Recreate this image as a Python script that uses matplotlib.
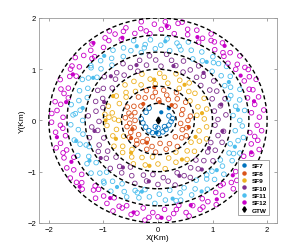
"""Scatter of end devices per spreading factor around one gateway."""

import numpy as np
from matplotlib import pyplot as plt
from matplotlib.lines import Line2D
from matplotlib.patches import Circle

plt.switch_backend("Agg")

SF_LABELS = ["SF7", "SF8", "SF9", "SF10", "SF11", "SF12"]
SF_COLORS = ["#0072BD", "#D95319", "#EDB120", "#7E2F8E", "#4DBEEE", "#C800C8"]
RING_RADII = [1 / 3, 2 / 3, 1.0, 4 / 3, 5 / 3, 2.0]

# node positions, polar (angle in degrees, radius in km)
SF7_ANG = [174, 190, 210, 231, 247, 272, 292, 310, 336, 355, 8, 24, 124, 144, 270, 315, 248]
SF7_RAD = [0.31, 0.28, 0.26, 0.26, 0.26, 0.26, 0.24, 0.23, 0.22, 0.24, 0.27, 0.22, 0.29, 0.27, 0.15, 0.17, 0.13]
SF7_ANG_ON = [69, 263, 50]
SF7_RAD_ON = [0.17, 0.24, 0.31]

SF8_ANG = [0, 8, 15, 25, 35, 42, 50, 58, 65, 72, 80, 88, 95, 102, 110, 118, 128, 138, 148, 155, 160,
           165, 170, 175, 180, 186, 192, 198, 205, 212, 218, 225, 230, 236, 242, 250, 258, 266, 275,
           285, 295, 305, 315, 322, 330, 338, 345, 352]
SF8_RAD = [0.55, 0.6, 0.45, 0.5, 0.62, 0.42, 0.55, 0.64, 0.45, 0.52, 0.6, 0.4, 0.55, 0.47, 0.62, 0.5,
           0.58, 0.42, 0.52, 0.62, 0.45, 0.55, 0.5, 0.6, 0.42, 0.52, 0.58, 0.46, 0.55, 0.62, 0.45, 0.55,
           0.6, 0.5, 0.42, 0.6, 0.52, 0.62, 0.45, 0.58, 0.5, 0.62, 0.45, 0.55, 0.6, 0.48, 0.55, 0.42]
SF8_ANG_ON = [347, 85, 50, 96, 200, 215, 130, 245]
SF8_RAD_ON = [0.58, 0.36, 0.39, 0.65, 0.5, 0.6, 0.42, 0.48]

SF9_ANG = [2, 8, 14, 20, 27, 33, 38, 45, 52, 58, 63, 70, 76, 82, 88, 94, 100, 108, 114, 120, 126, 131,
           137, 142, 148, 155, 163, 170, 173, 176, 178, 180, 186, 193, 200, 206, 212, 218, 224, 230,
           236, 242, 248, 255, 262, 270, 278, 285, 292, 298, 305, 312, 318, 325, 332, 338, 345, 352]
SF9_RAD = [0.85, 0.72, 0.92, 0.78, 0.95, 0.7, 0.86, 0.8, 0.93, 0.74, 0.88, 0.97, 0.75, 0.85, 0.92, 0.72,
           0.82, 0.95, 0.76, 0.88, 0.7, 0.92, 0.8, 0.74, 0.9, 0.78, 0.95, 0.85, 0.98, 0.9, 0.8, 0.72,
           0.94, 0.78, 0.88, 0.7, 0.95, 0.82, 0.9, 0.74, 0.86, 0.96, 0.78, 0.9, 0.72, 0.85, 0.95, 0.76,
           0.88, 0.7, 0.93, 0.8, 0.9, 0.74, 0.86, 0.96, 0.78, 0.9]
SF9_ANG_ON = [10, 55, 95, 150, 180, 205, 232, 260, 300, 335]
SF9_RAD_ON = [0.82, 0.85, 0.8, 0.95, 0.96, 0.85, 0.8, 0.9, 0.88, 0.76]

SF10_ANG = [1, 5, 10, 14, 19, 23, 28, 32, 37, 41, 46, 50, 55, 59, 64, 68, 73, 78, 83, 87, 92, 97, 101,
            106, 111, 116, 120, 125, 129, 134, 139, 143, 148, 152, 157, 162, 166, 171, 176, 181, 186,
            190, 195, 199, 204, 209, 213, 218, 223, 227, 232, 237, 241, 246, 251, 256, 260, 265, 270,
            275, 279, 284, 289, 294, 298, 303, 308, 312, 317, 322, 326, 331, 336, 340, 345, 350, 355]
SF10_RAD = [1.1, 1.25, 1.05, 1.18, 1.3, 1.08, 1.22, 1.12, 1.28, 1.04, 1.2, 1.1, 1.3, 1.15, 1.05, 1.25,
            1.12, 1.2, 1.3, 1.06, 1.18, 1.27, 1.1, 1.22, 1.03, 1.15, 1.28, 1.08, 1.2, 1.12, 1.3, 1.05,
            1.18, 1.25, 1.1, 1.2, 1.04, 1.15, 1.28, 1.08, 1.22, 1.12, 1.3, 1.05, 1.18, 1.25, 1.1, 1.2,
            1.05, 1.28, 1.14, 1.22, 1.04, 1.18, 1.3, 1.1, 1.2, 1.06, 1.25, 1.12, 1.2, 1.3, 1.08, 1.18,
            1.26, 1.1, 1.2, 1.04, 1.15, 1.28, 1.1, 1.2, 1.06, 1.25, 1.14, 1.22, 1.05]
SF10_ANG_ON = [15, 48, 75, 110, 135, 160, 190, 215, 235, 262, 290, 310, 330, 350]
SF10_RAD_ON = [1.2, 1.25, 1.1, 1.15, 1.22, 1.05, 1.18, 1.28, 1.12, 1.2, 1.15, 1.25, 1.08, 1.2]

SF11_ANG = [0, 4, 7, 11, 15, 18, 22, 26, 29, 33, 37, 40, 44, 48, 51, 55, 59, 62, 66, 70, 73, 77, 81,
            84, 88, 92, 95, 99, 103, 106, 110, 114, 117, 121, 125, 128, 132, 136, 139, 143, 147, 150,
            154, 158, 161, 165, 169, 172, 176, 180, 183, 187, 191, 194, 198, 202, 205, 209, 213, 216,
            220, 224, 227, 231, 235, 238, 242, 246, 249, 253, 257, 260, 264, 268, 271, 275, 279, 282,
            286, 290, 293, 297, 301, 304, 308, 312, 315, 319, 323, 326, 330, 334, 337, 341, 345, 348,
            352, 356, 20, 45, 75, 100, 140, 175, 200, 230, 255, 285, 310, 335]
SF11_RAD = [1.5, 1.38, 1.6, 1.45, 1.55, 1.36, 1.62, 1.48, 1.4, 1.58, 1.45, 1.64, 1.38, 1.52, 1.6, 1.42,
            1.56, 1.36, 1.5, 1.63, 1.44, 1.55, 1.38, 1.6, 1.47, 1.4, 1.58, 1.5, 1.36, 1.62, 1.45, 1.55,
            1.4, 1.6, 1.48, 1.37, 1.57, 1.45, 1.63, 1.4, 1.52, 1.6, 1.43, 1.55, 1.37, 1.5, 1.62, 1.44,
            1.56, 1.38, 1.6, 1.47, 1.4, 1.58, 1.5, 1.36, 1.62, 1.45, 1.55, 1.4, 1.6, 1.48, 1.38, 1.57,
            1.45, 1.63, 1.4, 1.52, 1.6, 1.43, 1.55, 1.37, 1.5, 1.62, 1.44, 1.56, 1.38, 1.6, 1.47, 1.4,
            1.58, 1.5, 1.36, 1.62, 1.45, 1.55, 1.4, 1.6, 1.48, 1.38, 1.57, 1.45, 1.63, 1.4, 1.52, 1.6,
            1.43, 1.55, 1.42, 1.57, 1.5, 1.44, 1.6, 1.52, 1.4, 1.55, 1.46, 1.61, 1.39, 1.53]
SF11_ANG_ON = [8, 30, 52, 85, 105, 128, 145, 170, 195, 212, 240, 258, 280, 300, 318, 340]
SF11_RAD_ON = [1.48, 1.5, 1.45, 1.55, 1.5, 1.6, 1.45, 1.4, 1.55, 1.48, 1.5, 1.42, 1.55, 1.6, 1.45, 1.5]

SF12_ANG = [2, 5, 6, 10, 14, 15, 19, 24, 26, 27, 31, 35, 37, 40, 41, 45, 48, 52, 53, 56, 60, 63, 64,
            68, 72, 73, 77, 80, 84, 86, 88, 92, 95, 99, 100, 104, 108, 110, 113, 117, 120, 121, 125,
            129, 132, 133, 137, 141, 144, 146, 150, 152, 156, 159, 161, 165, 169, 170, 174, 178, 181,
            183, 187, 190, 194, 196, 199, 203, 205, 209, 212, 215, 217, 221, 224, 228, 229, 233, 236,
            240, 242, 245, 249, 251, 255, 258, 261, 263, 267, 270, 274, 276, 279, 283, 286, 287, 291,
            294, 298, 300, 303, 307, 309, 312, 316, 318, 321, 325, 327, 330, 334, 336, 339, 343, 345,
            348, 352, 354, 357, 20, 33, 46, 58, 79, 97, 115, 135, 148, 163, 176, 185, 200, 219, 231,
            247, 265, 281, 296, 314, 332, 350]
SF12_RAD = [1.86, 1.72, 1.95, 1.8, 1.9, 1.7, 1.84, 1.97, 1.76, 1.88, 1.93, 1.74, 1.82, 1.96, 1.7, 1.87,
            1.78, 1.92, 1.73, 1.85, 1.95, 1.8, 1.7, 1.9, 1.76, 1.86, 1.97, 1.72, 1.83, 1.93, 1.78, 1.88,
            1.7, 1.95, 1.82, 1.75, 1.9, 1.85, 1.72, 1.96, 1.8, 1.88, 1.74, 1.92, 1.84, 1.7, 1.86, 1.95,
            1.78, 1.9, 1.73, 1.83, 1.96, 1.76, 1.88, 1.7, 1.92, 1.81, 1.86, 1.74, 1.95, 1.79, 1.89, 1.72,
            1.84, 1.94, 1.77, 1.87, 1.7, 1.91, 1.82, 1.96, 1.75, 1.85, 1.93, 1.72, 1.8, 1.9, 1.78, 1.87,
            1.71, 1.95, 1.83, 1.76, 1.9, 1.85, 1.73, 1.96, 1.8, 1.88, 1.74, 1.92, 1.84, 1.7, 1.87, 1.95,
            1.78, 1.9, 1.73, 1.83, 1.96, 1.76, 1.88, 1.71, 1.92, 1.81, 1.86, 1.74, 1.95, 1.79, 1.89,
            1.72, 1.84, 1.94, 1.77, 1.87, 1.7, 1.91, 1.82, 1.78, 1.9, 1.74, 1.84, 1.93, 1.76, 1.86,
            1.71, 1.89, 1.8, 1.95, 1.75, 1.85, 1.92, 1.73, 1.82, 1.9, 1.77, 1.88, 1.72, 1.94, 1.8]
SF12_ANG_ON = [12, 30, 50, 66, 85, 112, 128, 150, 168, 190, 207, 222, 240, 256, 272, 290, 305, 322, 340]
SF12_RAD_ON = [1.8, 1.75, 1.9, 1.78, 1.85, 1.74, 1.92, 1.8, 1.72, 1.88, 1.78, 1.93, 1.75, 1.85, 1.9,
               1.76, 1.88, 1.74, 1.82]

HOLLOW = [(SF7_ANG, SF7_RAD), (SF8_ANG, SF8_RAD), (SF9_ANG, SF9_RAD),
          (SF10_ANG, SF10_RAD), (SF11_ANG, SF11_RAD), (SF12_ANG, SF12_RAD)]
FILLED = [(SF7_ANG_ON, SF7_RAD_ON), (SF8_ANG_ON, SF8_RAD_ON), (SF9_ANG_ON, SF9_RAD_ON),
          (SF10_ANG_ON, SF10_RAD_ON), (SF11_ANG_ON, SF11_RAD_ON), (SF12_ANG_ON, SF12_RAD_ON)]

GTW_X = [0.0]
GTW_Y = [0.0]


def _to_xy(ang, rad):
    a = np.deg2rad(np.asarray(ang, dtype=float))
    r = np.asarray(rad, dtype=float)
    return r * np.cos(a), r * np.sin(a)


plt.rcParams["font.family"] = ["Liberation Sans", "DejaVu Sans"]

fig = plt.figure(figsize=(3.07, 2.53), dpi=100)
ax = fig.add_axes([0.127, 0.115, 0.775, 0.81])

for r in RING_RADII:
    ax.add_patch(Circle((0, 0), r, fill=False, edgecolor="black", linewidth=1.0,
                        linestyle=(0, (3, 2)), zorder=3))

for color, (ang, rad) in zip(SF_COLORS, HOLLOW):
    x, y = _to_xy(ang, rad)
    ax.scatter(x, y, s=11, facecolors="none", edgecolors=color, linewidths=0.6, zorder=2)

for color, (ang, rad) in zip(SF_COLORS, FILLED):
    x, y = _to_xy(ang, rad)
    ax.scatter(x, y, s=9, color=color, edgecolors="none", zorder=2)

ax.plot(GTW_X, GTW_Y, "d", color="black", markersize=3.5, zorder=4)

ax.set_xlim(-2.18, 2.18)
ax.set_ylim(-2, 2)
ax.set_xticks([-2, -1, 0, 1, 2])
ax.set_yticks([-2, -1, 0, 1, 2])
ax.tick_params(direction="in", length=2, width=0.5, labelsize=5.5, pad=2,
               top=True, right=True, color="#808080")
for sp in ax.spines.values():
    sp.set_color("#999999")
    sp.set_linewidth(0.6)
ax.set_xlabel("X(Km)", fontsize=6, labelpad=1)
ax.set_ylabel("Y(Km)", fontsize=6, labelpad=1)

handles = [Line2D([], [], ls="none", marker="o", markersize=2.2, color=c) for c in SF_COLORS]
handles.append(Line2D([], [], ls="none", marker="d", markersize=2.8, color="black"))
leg = ax.legend(handles, SF_LABELS + ["GTW"], loc="lower right", fontsize=4.6, fancybox=False,
                borderpad=0.4, labelspacing=0.3, handlelength=1.0, handletextpad=0.7,
                borderaxespad=1.2, framealpha=1)
leg.get_frame().set_edgecolor("#999999")
leg.get_frame().set_linewidth(0.6)
leg.set_zorder(6)
for t in leg.get_texts():
    t.set_fontweight("bold")

fig.savefig("out.png", dpi=100)
plt.close(fig)
